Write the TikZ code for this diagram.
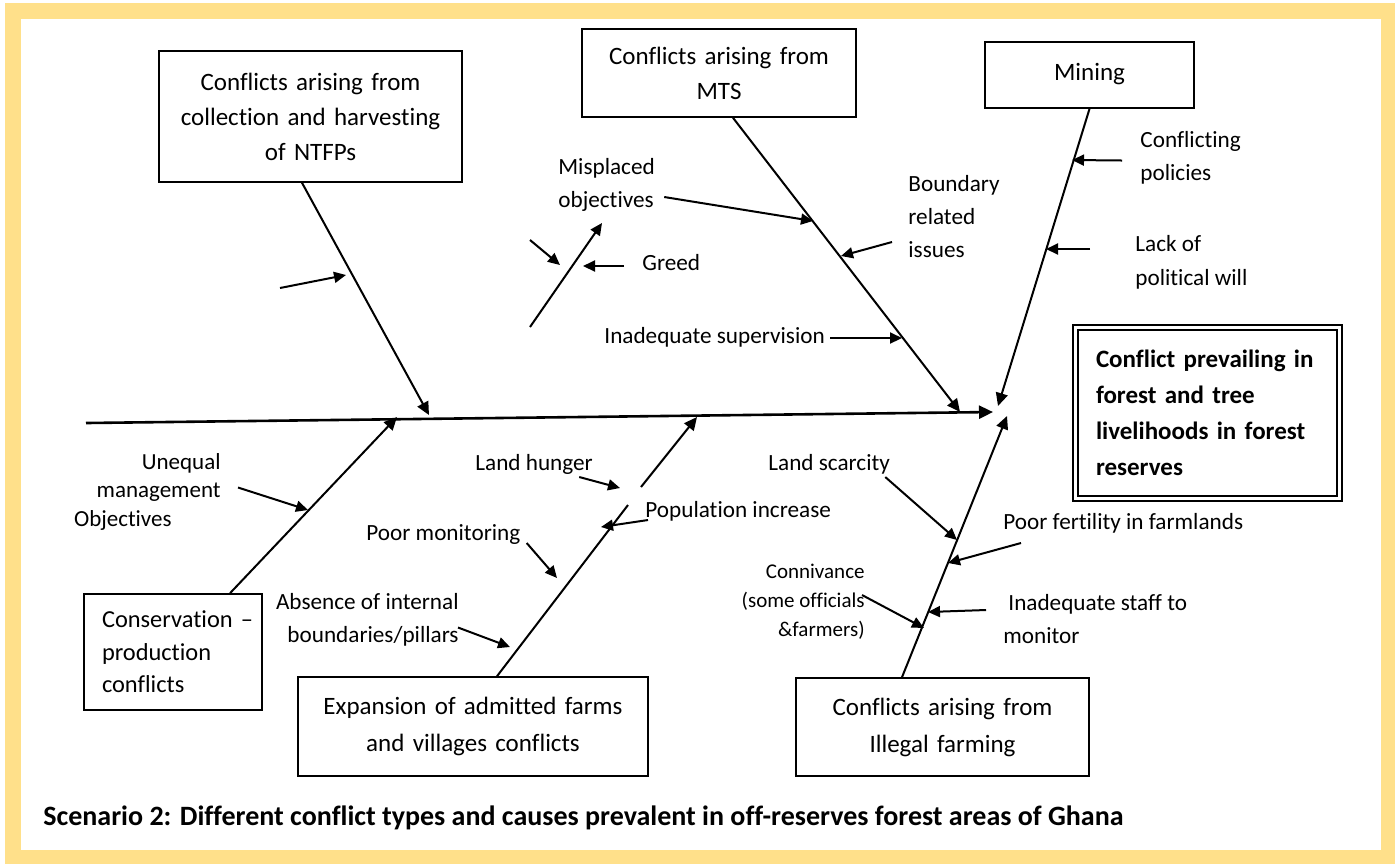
\documentclass[tikz,border=0pt]{standalone}
\usepackage{fontspec}
\setmainfont{Carlito}[Ligatures=NoCommon]
\usetikzlibrary{arrows.meta,positioning}
\definecolor{frameyellow}{RGB}{255,224,138}

\begin{document}
\begin{tikzpicture}[x=0.5pt,y=-0.5pt,
  box/.style={draw,line width=0.8pt,inner sep=0pt,align=center,font=\fontsize{12.5}{17.5}\selectfont},
  lbl/.style={inner sep=0pt,font=\fontsize{11.6}{16.5}\selectfont},
  spine/.style={line width=1.3pt,-{Triangle[length=7pt,width=6.5pt]}},
  bone/.style={line width=1pt,-{Triangle[length=6.5pt,width=6pt]}},
  cause/.style={line width=1pt,-{Triangle[length=6pt,width=5.5pt]}}]
\useasboundingbox (0,0) rectangle (1395,864);
\fill[frameyellow] (5,3) rectangle (1395,864);
\fill[white] (21,19) rectangle (1381,850);

\node[box,text width=151.5pt,minimum height=65.5pt] (ntfp) at (310.5,116.5) {Conflicts arising from\\collection and harvesting\\of NTFPs};
\node[box,text width=137pt,minimum height=44pt] (mts) at (719,73) {Conflicts arising from\\MTS};
\node[box,text width=104.5pt,minimum height=33pt] (mining) at (1089.5,75) {\raisebox{3pt}{Mining}};
\node[box,text width=111.5pt,inner xsep=10.25pt,minimum height=85.5pt,align=left,double,double distance=1.5pt,line width=1pt,font=\bfseries\fontsize{12.5}{18}\selectfont] (main) at (1207.5,413) {Conflict prevailing in\\forest and tree\\livelihoods in forest\\reserves};
\node[box,text width=71pt,inner xsep=9pt,minimum height=58pt,align=left,font=\fontsize{12.2}{16.25}\selectfont] (cons) at (173,652) {\mbox{Conservation \textendash}\\production\\conflicts};
\node[box,text width=175pt,minimum height=49.5pt,font=\fontsize{12.5}{18.5}\selectfont] (exp) at (473,726.5) {Expansion of admitted farms\\and villages conflicts};
\node[box,text width=146.5pt,minimum height=49pt,font=\fontsize{12.5}{18.5}\selectfont] (ill) at (942.5,727) {Conflicts arising from\\Illegal farming};

\coordinate (tail) at (86,423);
\coordinate (head) at (993,412);
\draw[spine] (tail) -- (head);

\coordinate (ntfptip) at (429,415);
\coordinate (mtstip) at (960,412);
\coordinate (minetip) at (998,406);
\coordinate (illtip) at (1007,416);
\coordinate (constip) at (397,417);
\coordinate (exptip) at (697,417);
\coordinate (gapA) at (628,505);
\coordinate (gapB) at (641,487);
\draw[bone] ([xshift=-4.25pt]ntfp.south) -- (ntfptip);
\draw[bone] ([xshift=7pt]mts.south) -- (mtstip);
\draw[bone] (mining.south) -- (minetip);
\draw[bone] ([xshift=-20.25pt]ill.north) -- (illtip);
\draw[bone] ([xshift=28.5pt]cons.north) -- (constip);
\draw[line width=1pt] ([xshift=12pt]exp.north) -- (gapA);
\draw[bone] (gapB) -- (exptip);

\coordinate (n0) at (280,288);
\coordinate (n1) at (346,275);
\draw[cause] (n0) -- (n1);

\node[lbl,anchor=west,align=left] (misp) at (558,185) {Misplaced\\objectives};
\coordinate (misptip) at (813,221);
\draw[cause] ([shift={(9,12)}]misp.east) -- (misptip);
\coordinate (sub0) at (530,327);
\coordinate (sub1) at (602,223);
\draw[cause] (sub0) -- (sub1);
\coordinate (sub2) at (530,240);
\coordinate (sub3) at (560,265);
\draw[cause] (sub2) -- (sub3);
\node[lbl,anchor=west] (greed) at (642,263) {Greed};
\coordinate (greedtip) at (583,266);
\draw[cause] ([shift={(-18,3)}]greed.west) -- (greedtip);
\node[lbl,anchor=west,align=left] (bound) at (908,217) {Boundary\\related\\issues};
\coordinate (boundtip) at (841,256);
\draw[cause] ([shift={(-16,25)}]bound.west) -- (boundtip);
\node[lbl,anchor=west] (superv) at (604,337) {Inadequate supervision};
\coordinate (supervtip) at (902,338);
\draw[cause] ([shift={(5,1)}]superv.east) -- (supervtip);

\node[lbl,anchor=west,align=left] (confpol) at (1140,157.5) {Conflicting\\policies};
\coordinate (confpoltip) at (1072,160);
\draw[cause] ([shift={(-18,3)}]confpol.west) -- (confpoltip);
\node[lbl,anchor=west,align=left,font=\fontsize{11.6}{17}\selectfont] (lackwill) at (1135,262) {Lack of\\political will};
\coordinate (lackwilltip) at (1046,249);
\draw[cause] ([shift={(-45,-13)}]lackwill.west) -- (lackwilltip);

\node[lbl,anchor=west] (scarc) at (768,464) {Land scarcity};
\coordinate (scarctip) at (957,540);
\draw[cause] ([shift={(-5,13)}]scarc.east) -- (scarctip);
\node[lbl,anchor=west] (fert) at (1003,523) {Poor fertility in farmlands};
\coordinate (ferttip) at (948,563);
\draw[cause] ([shift={(18,20)}]fert.west) -- (ferttip);
\node[lbl,anchor=west,align=left] (staff) at (1003,619.5) {\hspace*{2.5pt}Inadequate staff to\\monitor};
\coordinate (stafftip) at (928,612);
\draw[cause] ([shift={(-17,-9.5)}]staff.west) -- (stafftip);
\node[lbl,anchor=east,align=right,font=\fontsize{10.5}{14.5}\selectfont] (conniv) at (865,602) {Connivance\\(some officials\\\&farmers)};
\coordinate (connivtip) at (924,628);
\draw[cause] ([shift={(-3,-7)}]conniv.east) -- (connivtip);

\node[lbl,anchor=west] (hunger) at (475,464) {Land hunger};
\coordinate (hungertip) at (620,488);
\draw[cause] ([shift={(-14,13)}]hunger.east) -- (hungertip);
\node[lbl,anchor=west] (popul) at (645,511) {Population increase};
\coordinate (popultip) at (601,527);
\draw[cause] ([shift={(3,9)}]popul.west) -- (popultip);
\node[lbl,anchor=west] (monit) at (366,534) {Poor monitoring};
\coordinate (monittip) at (557,578);
\draw[cause] ([shift={(6,9)}]monit.east) -- (monittip);
\node[lbl,anchor=east,align=right] (absence) at (459,619.5) {Absence of internal\\boundaries/pillars};
\coordinate (absencetip) at (510,647);
\draw[cause] ([shift={(-1,8)}]absence.east) -- (absencetip);

\node[lbl,anchor=east,align=right,font=\fontsize{11.5}{14.25}\selectfont] (unequal) at (221,491.5) {Unequal\\management\\Objectives\hspace*{24.5pt}};
\coordinate (unequaltip) at (308,510);
\draw[cause] ([shift={(17,-4)}]unequal.east) -- (unequaltip);

\node[lbl,anchor=west,font=\bfseries\fontsize{14}{16}\selectfont] (caption) at (43,818) {Scenario 2: Different conflict types and causes prevalent in off-reserves forest areas of Ghana};
\end{tikzpicture}
\end{document}
